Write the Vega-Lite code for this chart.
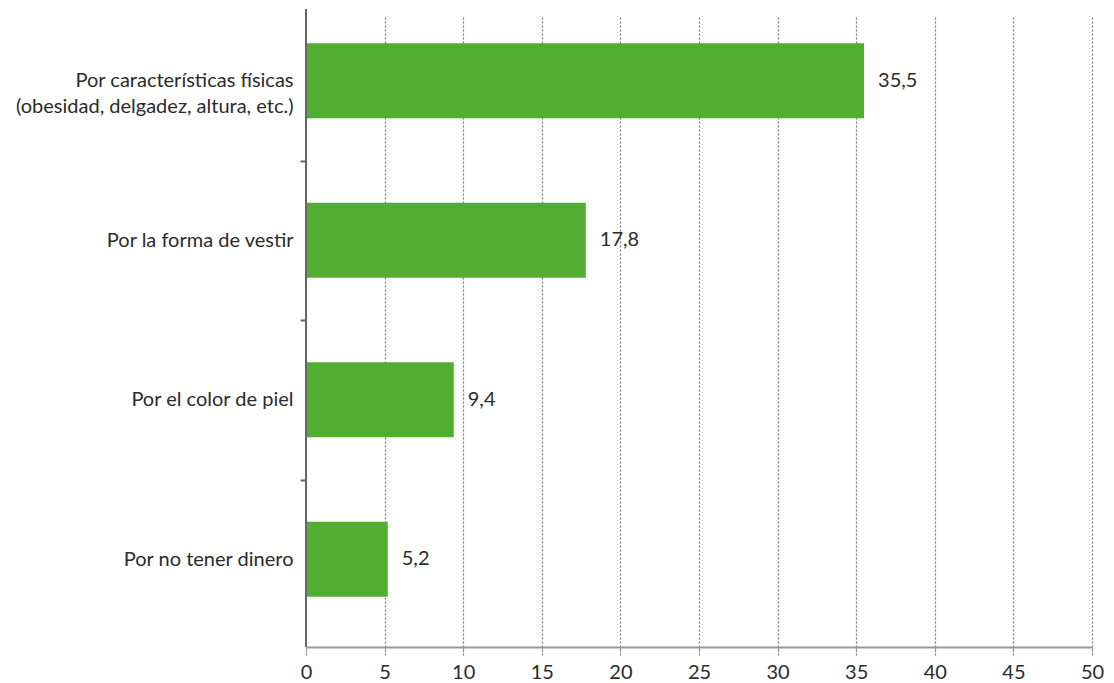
{
  "$schema": "https://vega.github.io/schema/vega-lite/v6.json",
  "width": 786,
  "height": 638,
  "autosize": "none",
  "padding": {"left": 306, "top": 9, "right": 22, "bottom": 36},
  "config": {
    "locale": {"number": {"decimal": ",", "thousands": ".", "grouping": [3], "currency": ["", " €"]}},
    "view": {"stroke": null},
    "font": "Lato"
  },
  "data": {
    "values": [
      {"categoria": "Por características físicas|(obesidad, delgadez, altura, etc.)", "valor": 35.5},
      {"categoria": "Por la forma de vestir", "valor": 17.8},
      {"categoria": "Por el color de piel", "valor": 9.4},
      {"categoria": "Por no tener dinero", "valor": 5.2}
    ]
  },
  "encoding": {
    "y": {
      "field": "categoria",
      "type": "nominal",
      "sort": null,
      "title": null,
      "scale": {"paddingInner": 0, "paddingOuter": 0, "range": [-8, 630]},
      "axis": {
        "labelExpr": "split(datum.label, '|')",
        "labelFont": "Lato",
        "labelFontSize": 20,
        "labelColor": "#2b2b2b",
        "labelPadding": 7,
        "labelLimit": 0,
        "labelLineHeight": 26,
        "domain": false,
        "tickColor": {"condition": {"test": "datum.value === 'Por no tener dinero'", "value": "transparent"}, "value": "#666666"},
        "tickWidth": 2,
        "tickSize": 6,
        "tickBand": "center",
        "tickOffset": 79.75,
        "labelOffset": -79.75,
        "grid": false
      }
    },
    "x": {
      "field": "valor",
      "type": "quantitative",
      "title": null,
      "scale": {"domain": [0, 50], "nice": false},
      "axis": {
        "values": [0, 5, 10, 15, 20, 25, 30, 35, 40, 45, 50],
        "labelFont": "Lato",
        "labelFontSize": 20,
        "labelColor": "#2b2b2b",
        "labelPadding": 10,
        "domainColor": "#999999",
        "domainWidth": 2,
        "tickColor": "#999999",
        "tickSize": 5,
        "grid": true,
        "gridColor": "#777777",
        "gridDash": [2, 2],
        "gridWidth": 1.2,
        "labelFlush": false
      }
    }
  },
  "layer": [
    {"mark": {"type": "bar", "color": "#52ae32", "height": {"band": 0.47}}},
    {
      "mark": {"type": "text", "align": "left", "dx": 14, "font": "Lato", "fontSize": 20, "color": "#2b2b2b"},
      "encoding": {"text": {"field": "valor", "type": "quantitative", "format": ".1f"}}
    },
    {
      "mark": {"type": "rule", "color": "#666666", "strokeWidth": 2},
      "encoding": {"x": {"datum": 0}, "y": null}
    }
  ]
}
